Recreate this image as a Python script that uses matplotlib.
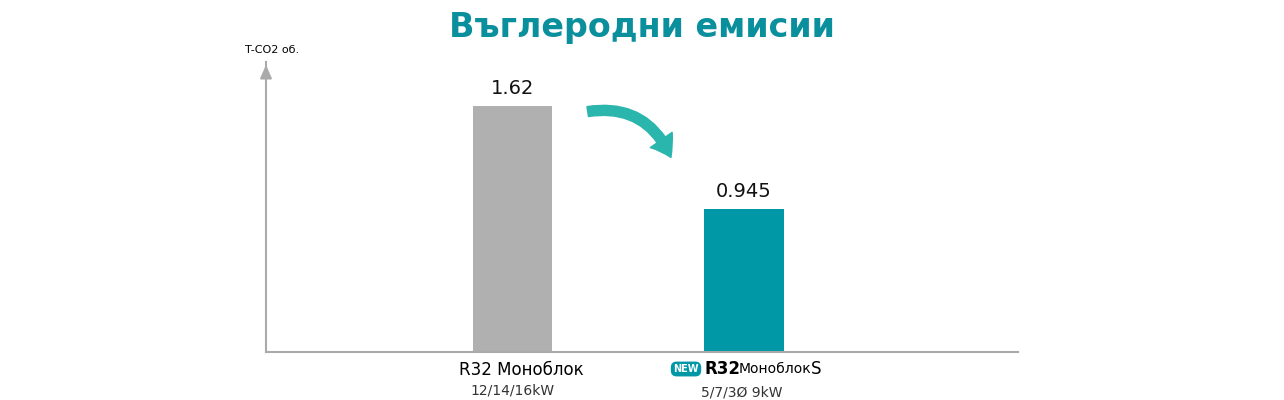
import matplotlib
matplotlib.use("Agg")
import matplotlib.pyplot as plt
from matplotlib.patches import FancyArrowPatch

categories = ["R32 Моноблок", "R32 Моноблок S"]
subtitles = ["12/14/16kW", "5/7/3Ø 9kW"]
values = [1.62, 0.945]
labels = ["1.62", "0.945"]
colors = ["#b0b0b0", "#0097a7"]

plt.rcParams['font.family'] = ['DejaVu Sans']
fig = plt.figure(figsize=(12.84, 4), dpi=100)
ax = fig.add_axes([266/1284, 48/400, 752/1284, 290/400])
x = list(range(len(values)))
ax.bar(x, values, width=0.342, color=colors)
ax.set_xlim(-1.069, 2.186)
ax.set_ylim(0, 1.91)
for s in ["top", "right"]:
    ax.spines[s].set_visible(False)
for s in ["left", "bottom"]:
    ax.spines[s].set_color("#aaaaaa"); ax.spines[s].set_linewidth(1.5)
ax.set_xticks([]); ax.set_yticks([])
for xi, v, l in zip(x, values, labels):
    ax.text(xi, v + 0.05, l, ha="center", va="bottom", fontsize=14, color="#111")
# y arrow head
ax.annotate("", xy=(0, 1.0), xytext=(0, 0.95), xycoords="axes fraction",
            arrowprops=dict(arrowstyle="-|>,head_width=0.35,head_length=0.8", color="#aaaaaa", lw=1.5))
fig.text(245/1284, 1-50/400, "T-CO2 об.", fontsize=8, ha="left", va="center")
fig.text(0.5, 1-28/400, "Въглеродни емисии", fontsize=24, fontweight="bold",
         color="#0a8f9c", ha="center", va="center")
# category labels
fig.text(521/1284, 1-370/400, "R32 Моноблок", fontsize=12, ha="center", va="center")
fig.text(513/1284, 1-390/400, subtitles[0], fontsize=10, ha="center", va="center", color="#333")
fig.text(705/1284, 1-369/400, "R32", fontsize=12, fontweight="bold", ha="left", va="center")
fig.text(739/1284, 1-369/400, "Моноблок", fontsize=10, ha="left", va="center")
fig.text(811/1284, 1-369/400, "S", fontsize=12, ha="left", va="center")
fig.text(686/1284, 1-369/400, "NEW", fontsize=7, fontweight="bold", color="white", ha="center", va="center",
         bbox=dict(boxstyle="round,pad=0.25,rounding_size=0.6", fc="#0097a7", ec="none"))
fig.text(742/1284, 1-392/400, subtitles[1], fontsize=10, ha="center", va="center", color="#333")
# curved arrow
arr = FancyArrowPatch((585/1284, 1-112/400), (672/1284, 1-160/400), transform=fig.transFigure,
                      connectionstyle="arc3,rad=-0.4",
                      arrowstyle="simple,head_width=1.6,head_length=1.2,tail_width=0.6",
                      color="#2ab5ad", mutation_scale=12)
fig.patches.append(arr)
fig.savefig("out.png", dpi=100, facecolor="white")
